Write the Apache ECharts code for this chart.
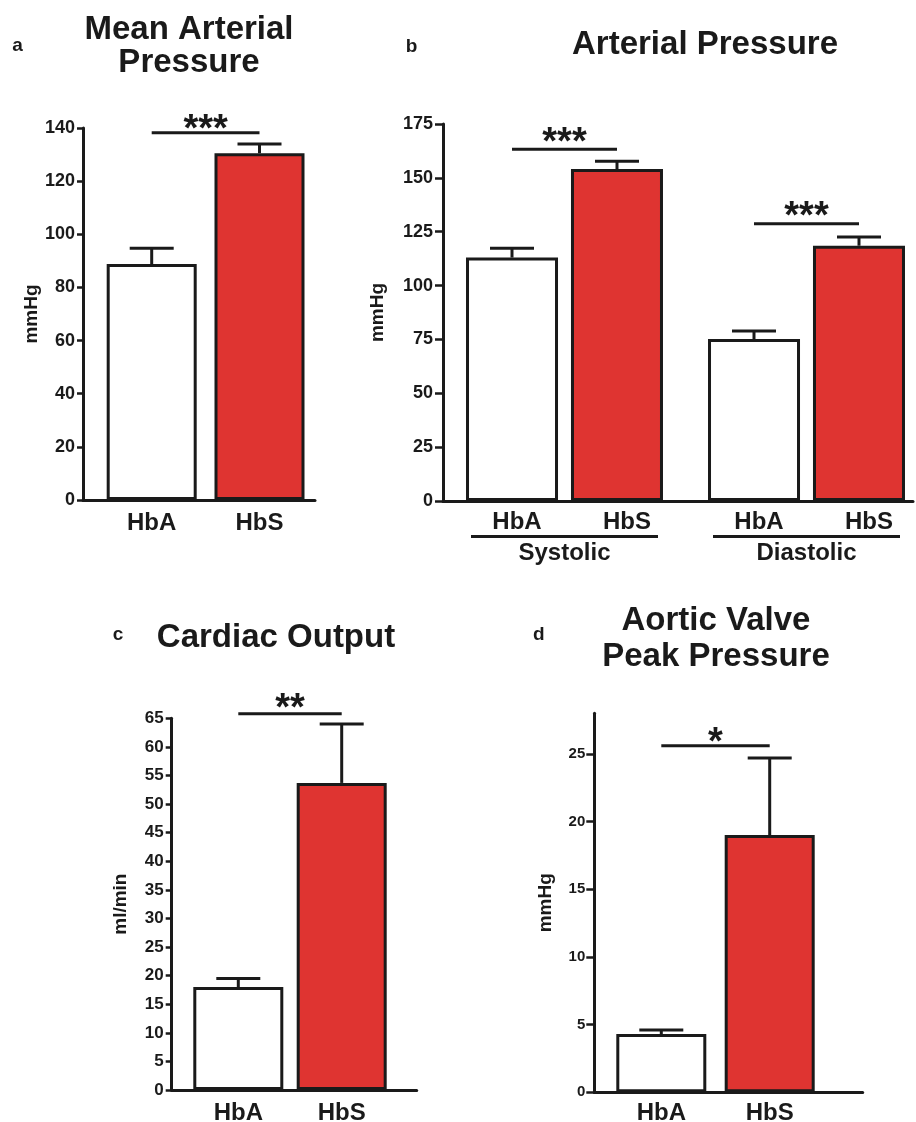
<!DOCTYPE html>
<html><head><meta charset="utf-8">
<script src="https://cdn.jsdelivr.net/npm/echarts@6/dist/echarts.min.js"></script>
<style>html,body{margin:0;padding:0;background:#fff}#c{width:916px;height:1122px}</style>
</head><body><div id="c"></div><script>
// ---------- data ----------
const groups = ['HbA', 'HbS'];
const mapMean = [88.8, 130.5];
const mapSem = [5.9, 3.5];
const mapTicks = [0, 20, 40, 60, 80, 100, 120, 140];
const mapSig = [138.2];
const mapSigLabel = ['***'];

const apCategories = ['Systolic', 'Diastolic'];
const apSeriesNames = ['HbA', 'HbS'];
const apHbA = [113.0, 75.2];
const apHbASem = [4.3, 3.7];
const apHbS = [154.1, 118.5];
const apHbSSem = [3.6, 4.1];
const apTicks = [0, 25, 50, 75, 100, 125, 150, 175];
const apSig = [163.3, 128.7];
const apSigLabel = ['***', '***'];

const coMean = [18.0, 53.7];
const coSem = [1.5, 10.3];
const coTicks = [0, 5, 10, 15, 20, 25, 30, 35, 40, 45, 50, 55, 60, 65];
const coSig = [65.8];
const coSigLabel = ['**'];

const avMean = [4.3, 19.0];
const avSem = [0.3, 5.7];
const avTicks = [0, 5, 10, 15, 20, 25];
const avSig = [25.6];
const avSigLabel = ['*'];

// ---------- style ----------
const FONT = "'Liberation Sans', Arial, Helvetica, sans-serif";
const INK = '#1a1a1a';
const RED = '#DF3431';
const FILLS = ['#ffffff', RED];
const CAP = 22;
const STAR_FONT = 'bold 38px ' + FONT;

const chart = echarts.init(document.getElementById('c'), null, {renderer: 'canvas'});
const grids = [], xAxes = [], yAxes = [], series = [];

function errRender(offset) {
  return function (params, api) {
    const c = api.coord([api.value(0), api.value(1)]);
    const t = api.coord([api.value(0), api.value(1) + api.value(2)]);
    const x = c[0] + offset;
    const st = {stroke: INK, lineWidth: 3};
    return {type: 'group', children: [
      {type: 'line', shape: {x1: x, y1: c[1], x2: x, y2: t[1]}, style: st},
      {type: 'line', shape: {x1: x - CAP, y1: t[1], x2: x + CAP, y2: t[1]}, style: st}
    ]};
  };
}

function sigRender(labels, pairOffset, starLift) {
  return function (params, api) {
    let x1, x2, y;
    if (pairOffset == null) {
      const p1 = api.coord([0, api.value(1)]);
      const p2 = api.coord([1, api.value(1)]);
      x1 = p1[0]; x2 = p2[0]; y = p1[1];
    } else {
      const p = api.coord([api.value(0), api.value(1)]);
      x1 = p[0] - pairOffset; x2 = p[0] + pairOffset; y = p[1];
    }
    return {type: 'group', children: [
      {type: 'line', shape: {x1: x1, y1: y, x2: x2, y2: y}, style: {stroke: INK, lineWidth: 3}},
      {type: 'text', style: {text: labels[params.dataIndex], x: (x1 + x2) / 2, y: y - starLift,
        font: STAR_FONT, fill: INK, align: 'center', verticalAlign: 'middle'}}
    ]};
  };
}

function addPanel(p) {
  const gi = grids.length;
  grids.push(Object.assign({outerBoundsMode: 'none', containLabel: false}, p.frame));
  grids.push(Object.assign({outerBoundsMode: 'none', containLabel: false}, p.bars));
  xAxes.push({gridIndex: gi, type: 'value', min: 0, max: 1,
    axisLine: {show: true, onZero: true, lineStyle: {color: INK, width: 3}},
    axisTick: {show: false}, axisLabel: {show: false}, splitLine: {show: false}});
  yAxes.push({gridIndex: gi, type: 'value', min: 0, max: p.max, interval: p.interval,
    name: p.yName, nameLocation: 'middle', nameGap: p.nameGap,
    nameTextStyle: {fontSize: 19, fontWeight: 'bold', color: INK, fontFamily: FONT},
    axisLine: {show: true, lineStyle: {color: INK, width: 3}},
    axisTick: {show: true, length: p.tickLen, lineStyle: {color: INK, width: 2.5}, customValues: p.ticks},
    axisLabel: {customValues: p.ticks, margin: p.labelMargin, fontSize: p.tickFont,
      fontWeight: 'bold', color: INK, fontFamily: FONT},
    splitLine: {show: false}});
  xAxes.push({gridIndex: gi + 1, type: 'category', data: p.categories,
    axisLine: {show: false}, axisTick: {show: false}, axisLabel: p.xLabel});
  yAxes.push({gridIndex: gi + 1, type: 'value', min: 0, max: p.max, show: false});
  return gi + 1;
}

const catLabel = (margin) => ({margin: margin, fontSize: 24, fontWeight: 'bold', color: INK, fontFamily: FONT});

function simplePanel(p, mean, sem, sig, sigLabel) {
  const ai = addPanel(p);
  series.push({type: 'bar', xAxisIndex: ai, yAxisIndex: ai, barWidth: 90, z: 2,
    data: mean.map((v, i) => ({value: v, itemStyle: {color: FILLS[i]}})),
    itemStyle: {borderColor: INK, borderWidth: 3}});
  series.push({type: 'custom', xAxisIndex: ai, yAxisIndex: ai, z: 3,
    data: mean.map((v, i) => [i, v, sem[i]]), renderItem: errRender(0)});
  series.push({type: 'custom', xAxisIndex: ai, yAxisIndex: ai, z: 3,
    data: sig.map((l) => [0, l]), renderItem: sigRender(sigLabel, null, p.starLift)});
}

// panel a
simplePanel({frame: {left: 83, top: 128, width: 232, height: 372},
  bars: {left: 97.8, top: 128, width: 215.6, height: 372},
  max: 140, interval: 20, ticks: mapTicks, yName: 'mmHg', nameGap: 34, starLift: 2,
  tickLen: 6, labelMargin: 8, tickFont: 18, categories: groups, xLabel: catLabel(11)},
  mapMean, mapSem, mapSig, mapSigLabel);

// panel c
simplePanel({frame: {left: 171.7, top: 718.3, width: 245, height: 371.7},
  bars: {left: 186.6, top: 718.3, width: 206.8, height: 371.7},
  max: 65, interval: 5, ticks: coTicks, yName: 'ml/min', nameGap: 41, starLift: 4,
  tickLen: 6, labelMargin: 8, tickFont: 17, categories: groups, xLabel: catLabel(11)},
  coMean, coSem, coSig, coSigLabel);

// panel d
simplePanel({frame: {left: 594.3, top: 713.3, width: 268.4, height: 379},
  bars: {left: 607.1, top: 713.3, width: 216.8, height: 379},
  max: 28, interval: 5, ticks: avTicks, yName: 'mmHg', nameGap: 39, starLift: 2,
  tickLen: 8, labelMargin: 9, tickFont: 15, categories: groups, xLabel: catLabel(9)},
  avMean, avSem, avSig, avSigLabel);

// panel b
(function () {
  const BW = 92, GAP = 13;
  const off = (BW + GAP) / 2;
  const ai = addPanel({frame: {left: 443, top: 124, width: 470, height: 377},
    bars: {left: 443.5, top: 124, width: 484, height: 377},
    max: 175, interval: 25, ticks: apTicks, yName: 'mmHg', nameGap: 56,
    tickLen: 8, labelMargin: 10, tickFont: 18, categories: apCategories,
    xLabel: {margin: 34, formatter: (v) => '{ul| }\n{g|' + v + '}',
      rich: {ul: {width: 187, height: 3, lineHeight: 3, backgroundColor: INK, fontSize: 3},
             g: {fontSize: 24, fontWeight: 'bold', color: INK, fontFamily: FONT, lineHeight: 30}}}});
  const vals = [apHbA, apHbS], sems = [apHbASem, apHbSSem], dx = [5, 10];
  vals.forEach((arr, s) => {
    series.push({type: 'bar', name: apSeriesNames[s], xAxisIndex: ai, yAxisIndex: ai,
      barWidth: BW, barGap: (GAP / BW * 100).toFixed(1) + '%', z: 2, data: arr,
      itemStyle: {color: FILLS[s], borderColor: INK, borderWidth: 3},
      label: {show: true, formatter: '{a}', position: ['50%', '100%'], offset: [dx[s], 21],
        align: 'center', verticalAlign: 'middle', fontSize: 24, fontWeight: 'bold',
        color: INK, fontFamily: FONT}});
  });
  vals.forEach((arr, s) => {
    series.push({type: 'custom', xAxisIndex: ai, yAxisIndex: ai, z: 3,
      data: arr.map((v, i) => [i, v, sems[s][i]]), renderItem: errRender(s === 0 ? -off : off)});
  });
  series.push({type: 'custom', xAxisIndex: ai, yAxisIndex: ai, z: 3,
    data: apSig.map((l, i) => [i, l]), renderItem: sigRender(apSigLabel, off, 6)});
})();

const T = (text, x, y, size, lh, va) => ({type: 'text', x: x, y: y, z: 10,
  style: {text: text, font: 'bold ' + size + 'px ' + FONT, fill: INK, align: 'center',
    verticalAlign: va || 'top', lineHeight: lh}});

chart.setOption({
  animation: false,
  backgroundColor: '#ffffff',
  grid: grids, xAxis: xAxes, yAxis: yAxes, series: series,
  graphic: [
    T('Mean Arterial\nPressure', 189, 13, 33, 33),
    T('Arterial Pressure', 705, 28, 33, 33),
    T('Cardiac Output', 276, 621, 33, 33),
    T('Aortic Valve\nPeak Pressure', 716, 603, 33, 36),
    T('a', 17.5, 46, 19, 19, 'middle'),
    T('b', 411.5, 47, 19, 19, 'middle'),
    T('c', 118, 635, 19, 19, 'middle'),
    T('d', 538.7, 635, 19, 19, 'middle')
  ]
});
</script></body></html>
